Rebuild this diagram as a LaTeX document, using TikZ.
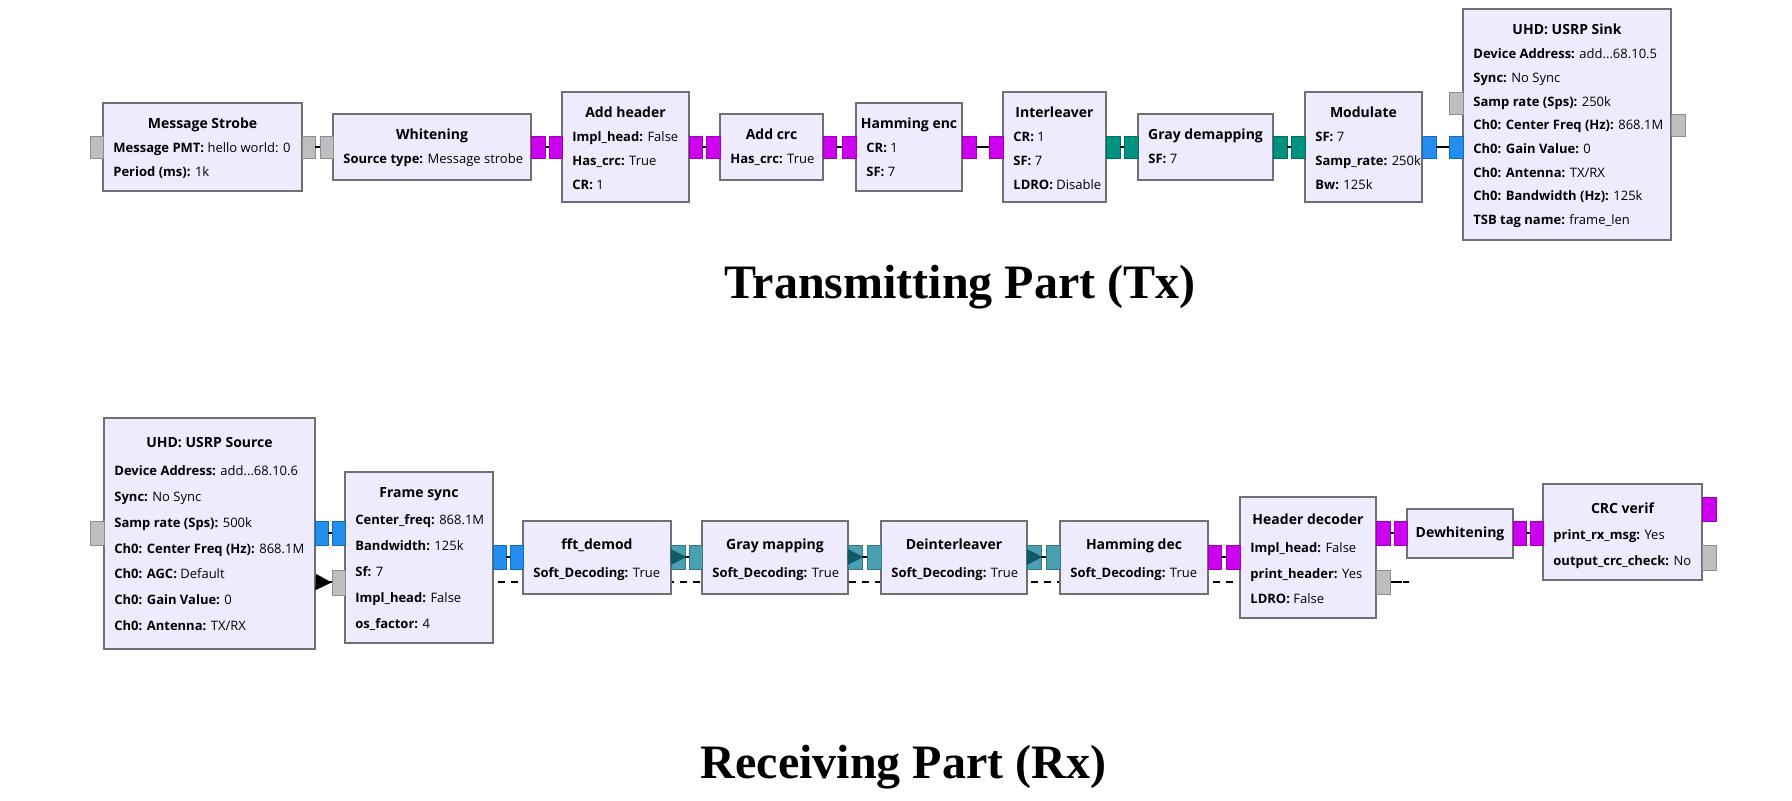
\documentclass[tikz,border=0pt]{standalone}
\usepackage{fontspec}
\setmainfont{Open Sans}
\newfontfamily\capfont{Liberation Serif}
\usetikzlibrary{arrows.meta}
\pgfdeclarelayer{bg}
\pgfsetlayers{bg,main}
\definecolor{boxfill}{RGB}{238,235,255}
\definecolor{boxline}{RGB}{112,112,112}
\definecolor{pmag}{RGB}{206,0,240}
\definecolor{pteal}{RGB}{0,146,128}
\definecolor{pblue}{RGB}{34,142,240}
\definecolor{psoft}{RGB}{72,160,178}
\definecolor{pgray}{RGB}{190,190,190}
\definecolor{arrsoft}{RGB}{16,90,104}
\tikzset{
  blk/.style={draw=boxline, fill=boxfill, line width=0.8pt, rectangle, inner sep=0pt},
  ttl/.style={font=\fontsize{7}{8}\selectfont\bfseries, anchor=base, inner sep=0pt},
  prm/.style={font=\fontsize{6.5}{8}\selectfont, anchor=base west, inner sep=0pt},
  port/.style={rectangle, inner sep=0pt, line width=0.4pt},
  conn/.style={line width=0.8pt, black},
  msgconn/.style={line width=0.8pt, black, dash pattern=on 3.5pt off 3pt},
  msgtip/.style={line width=0.8pt, black, -{Triangle[length=8pt,width=8pt]}},
  capt/.style={font=\capfont\bfseries\fontsize{24}{28}\selectfont, anchor=base, inner sep=0pt},
}
\newcommand\mkblock[7]{%
  \pgfmathsetmacro\bw{(#4-#2)*0.5}\pgfmathsetmacro\bh{(#5-#3)*0.5}%
  \pgfmathsetmacro\curleft{#2}%
  \node[blk, minimum width=\bw pt, minimum height=\bh pt] (#1) at ({(#2+#4)/2},{(#3+#5)/2}) {};
  \node[ttl] (#1-t) at ({(#2+#4)/2},{#7+4.8}) {#6};
}
\newcommand\mkprm[5]{%
  \node[prm] (#1-p#2) at ({\curleft+10},{#3+4.7}) {\textbf{#4:} #5};
}
\newcommand\mkport[6]{%
  \pgfmathsetmacro\pw{(#5-#3)*0.5}\pgfmathsetmacro\ph{(#6-#4)*0.5}%
  \node[port, fill=#2, draw=#2!75!black, minimum width=\pw pt, minimum height=\ph pt] (#1) at ({(#3+#5)/2},{(#4+#6)/2}) {};
}
\newcommand\softtip[1]{%
  \fill[arrsoft] ([yshift=4pt]#1.west) -- ([yshift=-4pt]#1.west) -- ([xshift=0.5pt]#1.east) -- cycle;
}
\begin{document}
\begin{tikzpicture}[x=0.5pt, y=-0.5pt]
\path[use as bounding box] (0,0) rectangle (1792,801);

% ---------------- Transmitting part ----------------
\mkblock{ms}{103}{103}{302}{191}{Message Strobe}{124}
\mkprm{ms}{1}{148}{Message PMT}{hello world: 0}
\mkprm{ms}{2}{171.7}{Period (ms)}{1k}
\mkport{ms-i}{pgray}{90}{136}{103}{158}
\mkport{ms-o}{pgray}{302}{136}{315}{158}

\mkblock{wh}{333}{114}{531}{180}{Whitening}{135}
\mkprm{wh}{1}{159}{Source type}{Message strobe}
\mkport{wh-i}{pgray}{320}{136}{333}{158}
\mkport{wh-o}{pmag}{531}{136}{545}{158}

\mkblock{ah}{562}{92}{689}{202}{Add header}{113}
\mkprm{ah}{1}{137}{Impl\_head}{False}
\mkprm{ah}{2}{160.7}{Has\_crc}{True}
\mkprm{ah}{3}{184.4}{CR}{1}
\mkport{ah-i}{pmag}{549}{136}{562}{158}
\mkport{ah-o}{pmag}{689}{136}{702}{158}

\mkblock{ac}{720}{114}{823}{180}{Add crc}{135}
\mkprm{ac}{1}{159}{Has\_crc}{True}
\mkport{ac-i}{pmag}{706}{136}{720}{158}
\mkport{ac-o}{pmag}{823}{136}{836}{158}

\mkblock{he}{856}{103}{962}{191}{Hamming enc}{124}
\mkprm{he}{1}{148}{CR}{1}
\mkprm{he}{2}{171.7}{SF}{7}
\mkport{he-i}{pmag}{842}{136}{856}{158}
\mkport{he-o}{pmag}{962}{136}{976}{158}

\mkblock{il}{1003}{92}{1106}{202}{Interleaver}{113}
\mkprm{il}{1}{137}{CR}{1}
\mkprm{il}{2}{160.7}{SF}{7}
\mkprm{il}{3}{184.4}{LDRO}{Disable}
\mkport{il-i}{pmag}{989}{136}{1003}{158}
\mkport{il-o}{pteal}{1106}{136}{1120}{158}

\mkblock{gd}{1138}{114}{1273}{180}{Gray demapping}{135}
\mkprm{gd}{1}{159}{SF}{7}
\mkport{gd-i}{pteal}{1124}{136}{1138}{158}
\mkport{gd-o}{pteal}{1273}{136}{1287}{158}

\mkblock{mo}{1305}{92}{1422}{202}{Modulate}{113}
\mkprm{mo}{1}{137}{SF}{7}
\mkprm{mo}{2}{160.7}{Samp\_rate}{250k}
\mkprm{mo}{3}{184.4}{Bw}{125k}
\mkport{mo-i}{pteal}{1291}{136}{1305}{158}
\mkport{mo-o}{pblue}{1422}{136}{1436}{158}

\mkblock{sk}{1463}{9}{1671}{240}{UHD: USRP Sink}{30}
\mkprm{sk}{1}{54}{Device Address}{add...68.10.5}
\mkprm{sk}{2}{77.7}{Sync}{No Sync}
\mkprm{sk}{3}{101.4}{Samp rate (Sps)}{250k}
\mkprm{sk}{4}{125.1}{Ch0: Center Freq (Hz)}{868.1M}
\mkprm{sk}{5}{148.8}{Ch0: Gain Value}{0}
\mkprm{sk}{6}{172.5}{Ch0: Antenna}{TX/RX}
\mkprm{sk}{7}{196.2}{Ch0: Bandwidth (Hz)}{125k}
\mkprm{sk}{8}{219.9}{TSB tag name}{frame\_len}
\mkport{sk-i}{pblue}{1449}{136}{1463}{158}
\mkport{sk-m}{pgray}{1449}{92}{1463}{114}
\mkport{sk-o}{pgray}{1671}{114}{1685}{136}

\draw[conn] (ms-o) -- (wh-i);
\draw[conn] (wh-o) -- (ah-i);
\draw[conn] (ah-o) -- (ac-i);
\draw[conn] (ac-o) -- (he-i);
\draw[conn] (he-o) -- (il-i);
\draw[conn] (il-o) -- (gd-i);
\draw[conn] (gd-o) -- (mo-i);
\draw[conn] (mo-o) -- (sk-i);

\node[capt] (txcap) at (960,299) {Transmitting Part (Tx)};

% ---------------- Receiving part ----------------
\mkblock{src}{104}{418}{315}{649}{UHD: USRP Source}{443}
\mkprm{src}{1}{471}{Device Address}{add...68.10.6}
\mkprm{src}{2}{496.8}{Sync}{No Sync}
\mkprm{src}{3}{522.6}{Samp rate (Sps)}{500k}
\mkprm{src}{4}{548.4}{Ch0: Center Freq (Hz)}{868.1M}
\mkprm{src}{5}{574.2}{Ch0: AGC}{Default}
\mkprm{src}{6}{600}{Ch0: Gain Value}{0}
\mkprm{src}{7}{625.8}{Ch0: Antenna}{TX/RX}
\mkport{src-i}{pgray}{90}{521}{104}{545}
\mkport{src-o}{pblue}{315}{521}{328}{545}

\mkblock{fs}{345}{472}{493}{643}{Frame sync}{493}
\mkprm{fs}{1}{520}{Center\_freq}{868.1M}
\mkprm{fs}{2}{546}{Bandwidth}{125k}
\mkprm{fs}{3}{572}{Sf}{7}
\mkprm{fs}{4}{598}{Impl\_head}{False}
\mkprm{fs}{5}{624}{os\_factor}{4}
\mkport{fs-i}{pblue}{332}{521}{345}{545}
\mkport{fs-m}{pgray}{332}{570}{345}{595}
\mkport{fs-o}{pblue}{493}{545}{506}{569}

\mkblock{fd}{523}{521}{671}{594}{fft\_demod}{545}
\mkprm{fd}{1}{573}{Soft\_Decoding}{True}
\mkport{fd-i}{pblue}{510}{545}{523}{569}
\mkport{fd-o}{psoft}{671}{545}{685}{569}

\mkblock{gm}{702}{521}{848}{594}{Gray mapping}{545}
\mkprm{gm}{1}{573}{Soft\_Decoding}{True}
\mkport{gm-i}{psoft}{689}{545}{702}{569}
\mkport{gm-o}{psoft}{848}{545}{862}{569}

\mkblock{di}{881}{521}{1027}{594}{Deinterleaver}{545}
\mkprm{di}{1}{573}{Soft\_Decoding}{True}
\mkport{di-i}{psoft}{867}{545}{881}{569}
\mkport{di-o}{psoft}{1027}{545}{1041}{569}

\mkblock{hd}{1060}{521}{1208}{594}{Hamming dec}{545}
\mkprm{hd}{1}{573}{Soft\_Decoding}{True}
\mkport{hd-i}{psoft}{1046}{545}{1060}{569}
\mkport{hd-o}{pmag}{1208}{545}{1221}{569}

\mkblock{hr}{1240}{497}{1376}{618}{Header decoder}{520}
\mkprm{hr}{1}{547.5}{Impl\_head}{False}
\mkprm{hr}{2}{574}{print\_header}{Yes}
\mkprm{hr}{3}{599}{LDRO}{False}
\mkport{hr-i}{pmag}{1226}{545}{1240}{569}
\mkport{hr-o}{pmag}{1376}{521}{1390}{545}
\mkport{hr-m}{pgray}{1376}{570}{1390}{594}

\mkblock{dw}{1407}{509}{1513}{558}{Dewhitening}{533}
\mkport{dw-i}{pmag}{1394}{521}{1407}{545}
\mkport{dw-o}{pmag}{1513}{521}{1526}{545}

\mkblock{cv}{1543}{484}{1702}{580}{CRC verif}{509}
\mkprm{cv}{1}{535}{print\_rx\_msg}{Yes}
\mkprm{cv}{2}{561}{output\_crc\_check}{No}
\mkport{cv-i}{pmag}{1530}{521}{1543}{545}
\mkport{cv-o}{pmag}{1702}{497}{1716}{521}
\mkport{cv-m}{pgray}{1702}{545}{1716}{570}

\draw[conn] (src-o) -- (fs-i);
\draw[conn] (fs-o) -- (fd-i);
\draw[conn] (fd-o) -- (gm-i);
\draw[conn] (gm-o) -- (di-i);
\draw[conn] (di-o) -- (hd-i);
\draw[conn] (hd-o) -- (hr-i);
\draw[conn] (hr-o) -- (dw-i);
\draw[conn] (dw-o) -- (cv-i);
\softtip{fd-o}
\softtip{gm-o}
\softtip{di-o}

\coordinate (hrtail) at (1409,582);
\coordinate (fstail) at (316,582);
\begin{pgfonlayer}{bg}
\draw[msgconn] (hr-m.east) -- (hrtail) -- (fstail);
\end{pgfonlayer}
\draw[msgtip] (fstail) -- (fs-m.west);

\node[capt] (rxcap) at (903.5,778) {Receiving Part (Rx)};
\end{tikzpicture}
\end{document}
